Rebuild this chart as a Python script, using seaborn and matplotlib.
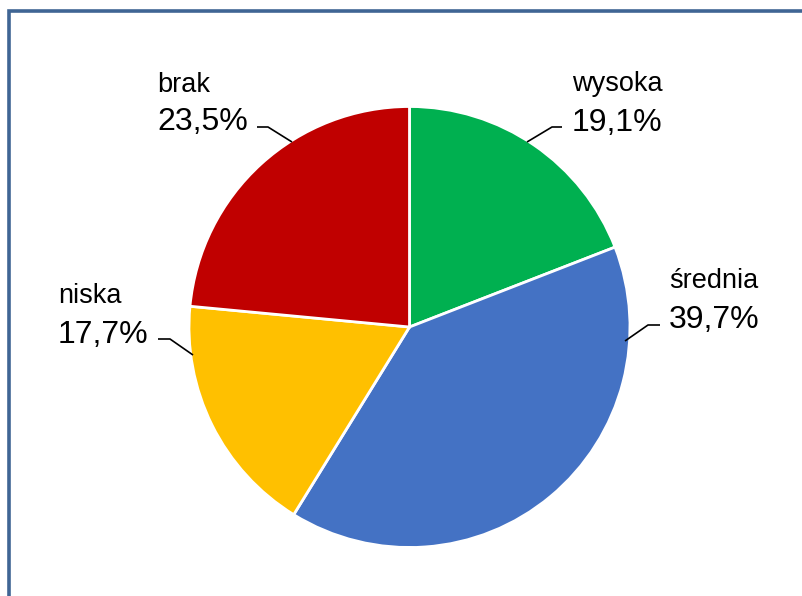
import matplotlib
matplotlib.use("Agg")
import matplotlib.pyplot as plt
import seaborn as sns
from matplotlib.patches import Rectangle

categories = ["wysoka", "średnia", "niska", "brak"]
values = [19.1, 39.7, 17.7, 23.5]
pct_labels = ["19,1%", "39,7%", "17,7%", "23,5%"]
colors = ["#00B050", "#4472C4", "#FFC000", "#C00000"]

sns.set_theme(style="white")
plt.rcParams['font.family'] = ['Liberation Sans', 'DejaVu Sans']

W, H = 803, 596
fig = plt.figure(figsize=(W / 100, H / 100), dpi=100)
ax = fig.add_axes([0, 0, 1, 1])

def Y(y):
    return H - y

cx, cy, r = 409.5, 327, 220.5
ax.pie(values, colors=colors, startangle=90, counterclock=False,
       center=(cx, Y(cy)), radius=r,
       wedgeprops=dict(edgecolor="white", linewidth=2.0))
ax.set_xlim(0, W)
ax.set_ylim(0, H)
ax.set_aspect("equal")
ax.axis("off")

# frame
ax.add_patch(Rectangle((9.3, Y(700)), 900, 700 - 11.3, fill=False,
                       edgecolor="#3F6594", linewidth=2.6, clip_on=False))

# labels: (x, name baseline, pct baseline)
label_pos = [(572, 91, 131), (669, 288, 328), (58, 303, 343), (157, 92, 130)]
leaders = [
    [(527, 142), (552, 127), (562, 127)],
    [(625, 341), (648, 325), (660, 325)],
    [(158, 339), (170, 339), (193, 355)],
    [(257, 127), (268, 127), (292, 142)],
]
for name, pct, (x, yb1, yb2), pts in zip(categories, pct_labels, label_pos, leaders):
    ax.text(x, Y(yb1), name, fontsize=19.5, va="baseline", ha="left", color="black")
    ax.text(x, Y(yb2), pct, fontsize=23, va="baseline", ha="left", color="black")
    xs = [p[0] for p in pts]
    ys = [Y(p[1]) for p in pts]
    ax.plot(xs, ys, color="black", linewidth=1.2, solid_capstyle="butt")

fig.savefig("out.png", dpi=100, facecolor="white")
